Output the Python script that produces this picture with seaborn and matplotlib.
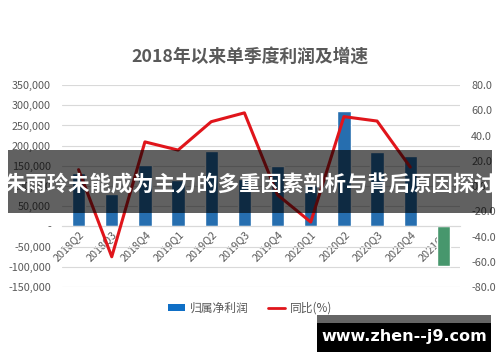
import numpy as np
import pandas as pd
import matplotlib
matplotlib.use("Agg")
import matplotlib.pyplot as plt
from matplotlib.patches import Rectangle, Patch
from matplotlib.lines import Line2D
from matplotlib.ticker import FuncFormatter, MultipleLocator
import seaborn as sns

quarters = ['2018Q2', '2018Q3', '2018Q4', '2019Q1', '2019Q2', '2019Q3',
            '2019Q4', '2020Q1', '2020Q2', '2020Q3', '2020Q4', '2021Q1']
profit = [132000, 80000, 152000, 115000, 186000, 118000,
          150000, 103000, 287000, 185000, 175000, -98000]
yoy = [13, -56, 35, 28.5, 51, 58, -7, -28.5, 55, 51.5, 15, np.nan]
bar_colors = ['#0f6fc6'] * 11 + ['#3aa46c']

title = '2018年以来单季度利润及增速'
banner = '朱雨玲未能成为主力的多重因素剖析与背后原因探讨'
watermark = 'www.zhen--j9.com'
legend_labels = ['归属净利润', '同比(%)']

sns.set_style('white')
plt.rcParams['font.family'] = ['Noto Sans CJK SC', 'DejaVu Sans']

GRAY = '#595959'
fig = plt.figure(figsize=(5, 3.62), dpi=100)
fig.patch.set_facecolor('white')
ax = fig.add_axes([0.124, 0.207, 0.796, 0.558])

df = pd.DataFrame({'q': quarters, 'profit': profit})
sns.barplot(data=df, x='q', y='profit', hue='q', palette=bar_colors,
            dodge=False, width=0.4, legend=False, ax=ax, zorder=2)
ax.set_ylim(-150000, 350000)
ax.yaxis.set_major_locator(MultipleLocator(50000))
ax.yaxis.set_major_formatter(FuncFormatter(
    lambda v, p: '-' if abs(v) < 1 else f'{v:,.0f}'))
ax.grid(axis='y', color='#d9d9d9', lw=0.8, zorder=0)
ax.set_axisbelow(True)
for s in ['top', 'right', 'left']:
    ax.spines[s].set_visible(False)
ax.spines['bottom'].set_position(('data', 0))
ax.spines['bottom'].set_color('#d9d9d9')
ax.spines['bottom'].set_linewidth(0.8)
ax.set_xlabel('')
ax.set_ylabel('')
ax.tick_params(axis='y', length=0, labelsize=7.8, labelcolor=GRAY, pad=8)
ax.tick_params(axis='x', length=0, labelsize=7.8, labelcolor=GRAY, pad=2)
for lab in ax.get_xticklabels():
    lab.set_rotation(45)
    lab.set_ha('right')
    lab.set_rotation_mode('anchor')
ax.set_xlim(-0.5, len(quarters) - 0.5)

ax2 = ax.twinx()
sns.lineplot(x=np.arange(len(quarters)), y=yoy, ax=ax2, color='#e0151b', lw=2.2)
ax2.set_ylim(-80, 80)
ax2.yaxis.set_major_locator(MultipleLocator(20))
ax2.yaxis.set_major_formatter(FuncFormatter(lambda v, p: f'{v:.1f}'))
ax2.tick_params(axis='y', length=0, labelsize=7.8, labelcolor=GRAY, pad=8)
for s in ax2.spines.values():
    s.set_visible(False)
ax2.set_ylabel('')

fig.text(0.5, (362 - 57) / 362, title, ha='center', va='center',
         fontsize=12.8, fontweight='bold', color=GRAY)

handles = [Patch(facecolor=bar_colors[0], edgecolor='none'),
           Line2D([0], [0], color='#e0151b', lw=2)]
fig.legend(handles, legend_labels, loc='center', ncol=2,
           bbox_to_anchor=(0.5, (362 - 308) / 362), frameon=False,
           fontsize=8.5, labelcolor=GRAY, handlelength=1.5, handleheight=0.5,
           columnspacing=1.6, handletextpad=0.4)

# overlay banner
fig.add_artist(Rectangle((8 / 500, (362 - 213) / 362), 484 / 500, 63 / 362,
                         transform=fig.transFigure, facecolor='black',
                         alpha=0.62, edgecolor='none', zorder=10))
fig.text(0.5, (362 - 185) / 362, banner, ha='center', va='center',
         fontsize=15.4, fontweight='bold', color='white', zorder=11)

# watermark
fig.add_artist(Rectangle((317 / 500, (362 - 323) / 362), 174 / 500, 8 / 362,
                         transform=fig.transFigure, facecolor='#666666',
                         edgecolor='none', zorder=10))
fig.add_artist(Rectangle((317 / 500, (362 - 352) / 362), 174 / 500, 29 / 362,
                         transform=fig.transFigure, facecolor='black',
                         edgecolor='none', zorder=10))
fig.text(404 / 500, (362 - 337) / 362, watermark, ha='center', va='center',
         fontsize=11.5, fontweight='bold', color='white', zorder=11,
         family=['DejaVu Sans'])

fig.savefig('out.png', dpi=100)
